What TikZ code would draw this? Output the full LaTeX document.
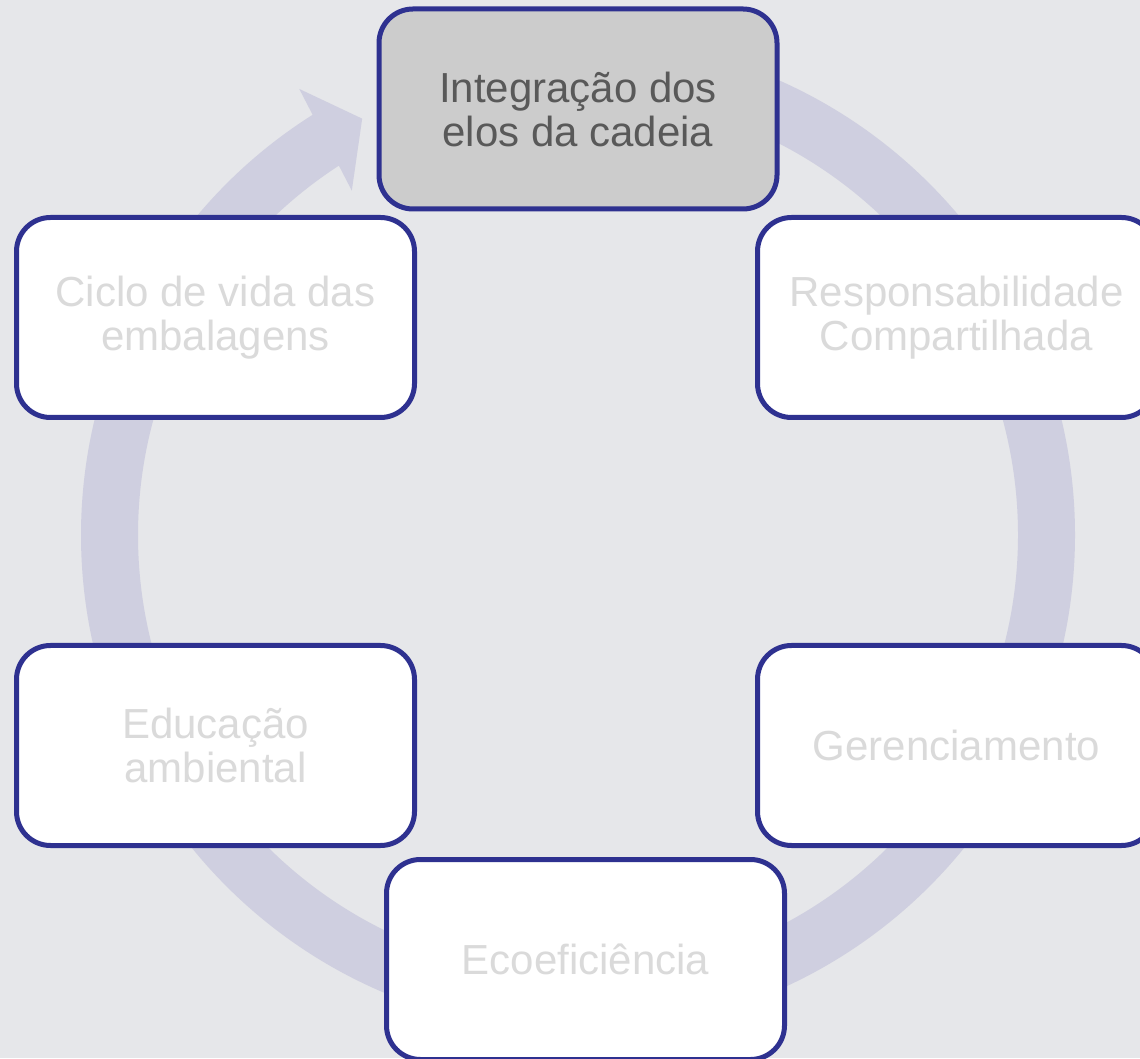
\documentclass[tikz,border=0pt]{standalone}
\usepackage{fontspec}
\setmainfont{Liberation Sans}
\usetikzlibrary{positioning}
\definecolor{fundo}{HTML}{E6E7EA}
\definecolor{anel}{HTML}{CFCFE0}
\definecolor{borda}{HTML}{2E3190}
\definecolor{textoclaro}{HTML}{DADADA}
\definecolor{textoescuro}{HTML}{595959}
\tikzstyle{every picture} = [x=1pt, y=1pt]

\begin{document}
\begin{tikzpicture} [etapa/.style={rectangle, rounded corners=34, draw=borda, line width=5, fill=white, text=textoclaro, minimum width=398, minimum height=200, align=center, font=\fontsize{42}{44}\selectfont}]
            \fill[fundo] (0,0) rectangle (1140,1058);
            \useasboundingbox (0,0) rectangle (1140,1058);
            \coordinate (centro) at (578,523);

            % anel com seta
            \draw[anel, line width=57] (centro) ++(90:468.5) arc[start angle=90, end angle=-237.9, radius=468.5];
            \fill[anel, shift={(centro)}] (122:526) -- (117.4:469) -- (123.3:412) -- cycle;

            \node (node 1) [etapa,fill=black!20,text=textoescuro] at (578,949) {Integração dos\\elos da cadeia};
            \node (node 2) [etapa] at (956.5,740.5) {Responsabilidade\\Compartilhada};
            \node (node 3) [etapa] at (956.5,312.5) {Gerenciamento};
            \node (node 4) [etapa] at (585.5,98.5) {Ecoeficiência};
            \node (node 5) [etapa] at (215.5,312.5) {Educação\\ambiental};
            \node (node 6) [etapa] at (215.5,740.5) {Ciclo de vida das\\embalagens};
        \end{tikzpicture}
\end{document}
